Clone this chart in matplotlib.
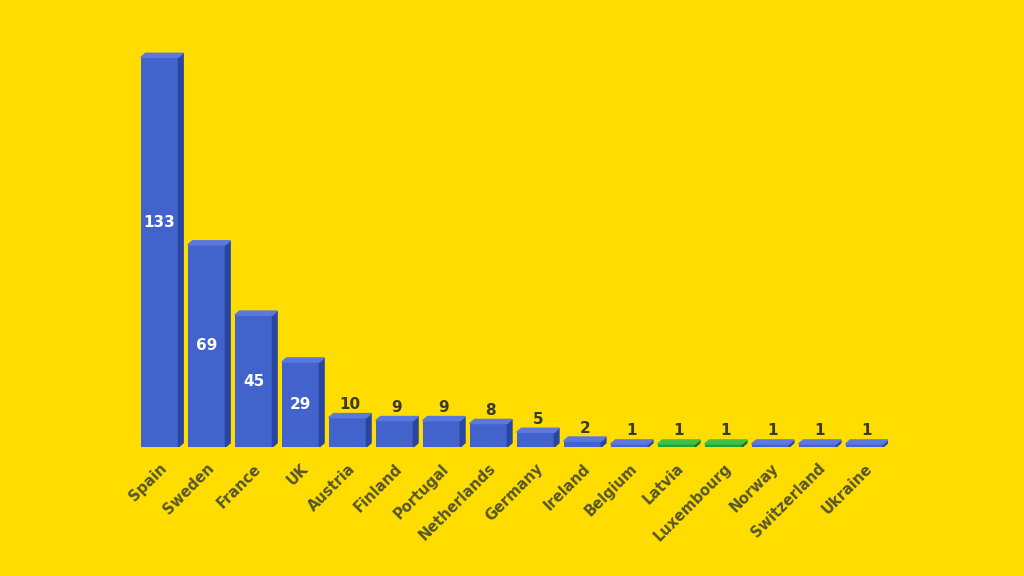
import matplotlib.pyplot as plt
from matplotlib.patches import Polygon

countries = ['Spain', 'Sweden', 'France', 'UK', 'Austria', 'Finland', 'Portugal',
             'Netherlands', 'Germany', 'Ireland', 'Belgium', 'Latvia', 'Luxembourg',
             'Norway', 'Switzerland', 'Ukraine']
values = [133, 69, 45, 29, 10, 9, 9, 8, 5, 2, 1, 1, 1, 1, 1, 1]
green = ['Latvia', 'Luxembourg']

bg = '#FFDD00'
fig = plt.figure(figsize=(10.24, 5.76), dpi=100, facecolor=bg)
ax = fig.add_axes([0.133, 0.224, 0.734, 0.712])
ax.set_facecolor(bg)

w = 0.8
dx, dy = 0.1, 1.4
for i, (c, v) in enumerate(zip(countries, values)):
    if c in green:
        face, side, top = '#22A030', '#157020', '#3CC048'
    else:
        face, side, top = '#4363CC', '#2A45A0', '#5A78DD'
    x0, x1 = i - w / 2, i + w / 2
    ax.bar(i, v, width=w, color=face, edgecolor='none', zorder=2)
    ax.add_patch(Polygon([(x1, 0), (x1 + dx, dy), (x1 + dx, v + dy), (x1, v)],
                         closed=True, color=side, zorder=2))
    ax.add_patch(Polygon([(x0, v), (x0 + dx, v + dy), (x1 + dx, v + dy), (x1, v)],
                         closed=True, color=top, zorder=2))
    if v >= 20:
        ax.text(i, v / 2 + (10 if v > 100 else 0), str(v), ha='center', va='center',
                color='white', fontsize=11, fontweight='bold', zorder=3)
    else:
        ax.text(i + dx / 2, v + dy + 0.5, str(v), ha='center', va='bottom',
                color='#3A3A2A', fontsize=11, fontweight='bold', zorder=3)

ax.set_xlim(-0.5, len(countries) - 0.5)
ax.set_ylim(0, 140)
ax.set_xticks(range(len(countries)))
ax.set_xticklabels(countries, rotation=45, ha='right', rotation_mode='anchor',
                   fontsize=10.5, fontweight='bold', color='#55552E')
ax.tick_params(length=0, pad=10)
ax.set_yticks([])
for s in ax.spines.values():
    s.set_visible(False)

fig.savefig('out.png', facecolor=bg)
